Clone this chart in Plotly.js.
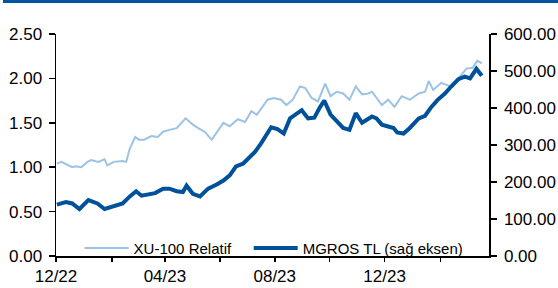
<!DOCTYPE html>
<html>
<head>
<meta charset="utf-8">
<script src="https://cdn.plot.ly/plotly-3.0.1.min.js"></script>
<style>
html,body{margin:0;padding:0;background:#fff;}
#wrap{position:relative;width:558px;height:288px;}
#bar{position:absolute;left:3px;top:0;width:555px;height:3px;background:#0055A0;z-index:5;}
#chart{position:absolute;left:0;top:0;width:558px;height:288px;}
</style>
</head>
<body>
<div id="wrap"><div id="bar"></div><div id="chart"></div></div>
<script>
// XU-100 relative performance (left axis)
const relDates = ['2022-12-02','2022-12-07','2022-12-19','2022-12-23','2022-12-29','2023-01-05','2023-01-09','2023-01-17','2023-01-24','2023-01-27','2023-02-03','2023-02-13','2023-02-17','2023-02-21','2023-02-27','2023-03-03','2023-03-09','2023-03-17','2023-03-24','2023-03-30','2023-04-06','2023-04-14','2023-04-24','2023-05-02','2023-05-08','2023-05-15','2023-05-23','2023-05-30','2023-06-05','2023-06-12','2023-06-21','2023-06-29','2023-07-06','2023-07-12','2023-07-18','2023-07-24','2023-07-31','2023-08-08','2023-08-14','2023-08-21','2023-08-29','2023-09-04','2023-09-11','2023-09-18','2023-09-26','2023-10-02','2023-10-09','2023-10-16','2023-10-23','2023-10-30','2023-11-06','2023-11-13','2023-11-17','2023-11-22','2023-11-28','2023-12-05','2023-12-12','2023-12-20','2023-12-29','2024-01-08','2024-01-15','2024-01-19','2024-01-24','2024-02-02','2024-02-12','2024-02-21','2024-03-01','2024-03-08','2024-03-13','2024-03-18'];
const relValues = [1.04,1.06,1.00,1.01,1.00,1.06,1.08,1.06,1.09,1.02,1.06,1.07,1.06,1.21,1.34,1.31,1.31,1.35,1.34,1.40,1.42,1.44,1.55,1.48,1.44,1.40,1.31,1.42,1.50,1.46,1.54,1.51,1.63,1.59,1.67,1.76,1.78,1.76,1.70,1.76,1.91,1.89,1.78,1.74,1.94,1.80,1.85,1.83,1.76,1.91,1.82,1.83,1.85,1.78,1.70,1.76,1.68,1.80,1.76,1.83,1.85,1.97,1.87,1.95,1.91,2.00,2.11,2.12,2.20,2.17];

// MGROS price in TL (right axis)
const mgDates = ['2022-12-02','2022-12-12','2022-12-19','2022-12-27','2023-01-06','2023-01-16','2023-01-24','2023-02-02','2023-02-13','2023-02-21','2023-02-28','2023-03-06','2023-03-13','2023-03-21','2023-03-30','2023-04-06','2023-04-14','2023-04-21','2023-04-25','2023-05-02','2023-05-10','2023-05-19','2023-05-29','2023-06-05','2023-06-12','2023-06-19','2023-06-27','2023-07-04','2023-07-10','2023-07-17','2023-07-24','2023-07-28','2023-08-04','2023-08-11','2023-08-18','2023-08-31','2023-09-07','2023-09-14','2023-09-20','2023-09-25','2023-10-02','2023-10-09','2023-10-16','2023-10-23','2023-10-30','2023-11-06','2023-11-13','2023-11-17','2023-11-22','2023-11-28','2023-12-05','2023-12-11','2023-12-15','2023-12-22','2023-12-29','2024-01-08','2024-01-15','2024-01-22','2024-01-29','2024-02-06','2024-02-13','2024-02-21','2024-02-28','2024-03-05','2024-03-12','2024-03-18'];
const mgValues = [139,146,142,127,151,142,127,134,142,161,175,163,166,170,182,182,175,173,190,168,161,182,194,204,218,242,250,266,281,305,331,348,343,331,372,394,372,374,401,420,382,362,346,341,386,360,372,377,372,355,350,346,334,331,346,372,379,403,422,439,458,478,485,480,506,487];

const tickDates = ['2022-12-01','2023-02-01','2023-04-01','2023-06-01','2023-08-01','2023-10-01','2023-12-01','2024-02-01'];
const tickLabels = ['12/22','','04/23','','08/23','','12/23',''];
const leftTicks = [0,0.5,1,1.5,2,2.5];
const rightTicks = [0,100,200,300,400,500,600];

const FONT = 'Arial, "Liberation Sans", sans-serif';

const traces = [
  {x: relDates, y: relValues, type:'scatter', mode:'lines', name:'XU-100 Relatif',
   line:{color:'#9CC2E5', width:2}, yaxis:'y', legend:'legend'},
  {x: mgDates, y: mgValues, type:'scatter', mode:'lines', name:'MGROS TL (sağ eksen)',
   line:{color:'#00519A', width:4}, yaxis:'y2', legend:'legend2'}
];

const layout = {
  width:558, height:288,
  margin:{l:56, r:69, t:34, b:32},
  paper_bgcolor:'#fff', plot_bgcolor:'#fff',
  font:{family:FONT, color:'#000', size:17},
  showlegend:true,
  xaxis:{type:'date', range:['2022-12-01','2024-03-26'], tickvals:tickDates, ticktext:tickLabels,
    showgrid:false, zeroline:false, showline:true, linecolor:'#000', linewidth:1.5,
    ticks:'outside', ticklen:4, tickcolor:'#000', tickwidth:1.5, tickfont:{size:17}},
  yaxis:{range:[0,2.5], tickvals:leftTicks, tickformat:'.2f', showgrid:false, zeroline:false,
    showline:true, linecolor:'#000', linewidth:1.5, ticks:'outside', ticklen:6, tickcolor:'#000', tickwidth:1.5,
    tickfont:{size:17}, ticklabelstandoff:3},
  yaxis2:{range:[0,600], tickvals:rightTicks, tickformat:'.2f', overlaying:'y', side:'right', showgrid:false, zeroline:false,
    showline:true, linecolor:'#000', linewidth:1.5, ticks:'outside', ticklen:6, tickcolor:'#000', tickwidth:1.5,
    tickfont:{size:17}, ticklabelstandoff:4},
  yaxis3:{range:[0,2.5], tickvals:leftTicks, overlaying:'y', side:'left', showgrid:false, zeroline:false,
    showline:false, ticks:'inside', ticklen:6, tickcolor:'#000', tickwidth:1.5, showticklabels:false},
  yaxis4:{range:[0,600], tickvals:rightTicks, overlaying:'y', side:'right', showgrid:false, zeroline:false,
    showline:false, ticks:'inside', ticklen:6, tickcolor:'#000', tickwidth:1.5, showticklabels:false},
  legend:{x:0.0545, y:0.035, xanchor:'left', yanchor:'middle', orientation:'h', bgcolor:'rgba(0,0,0,0)',
    itemwidth:44, font:{size:15, family:FONT}},
  legend2:{x:0.445, y:0.035, xanchor:'left', yanchor:'middle', orientation:'h', bgcolor:'rgba(0,0,0,0)',
    itemwidth:44, font:{size:15, family:FONT}}
};

Plotly.newPlot('chart', traces, layout, {displayModeBar:false, staticPlot:true});
</script>
</body>
</html>
